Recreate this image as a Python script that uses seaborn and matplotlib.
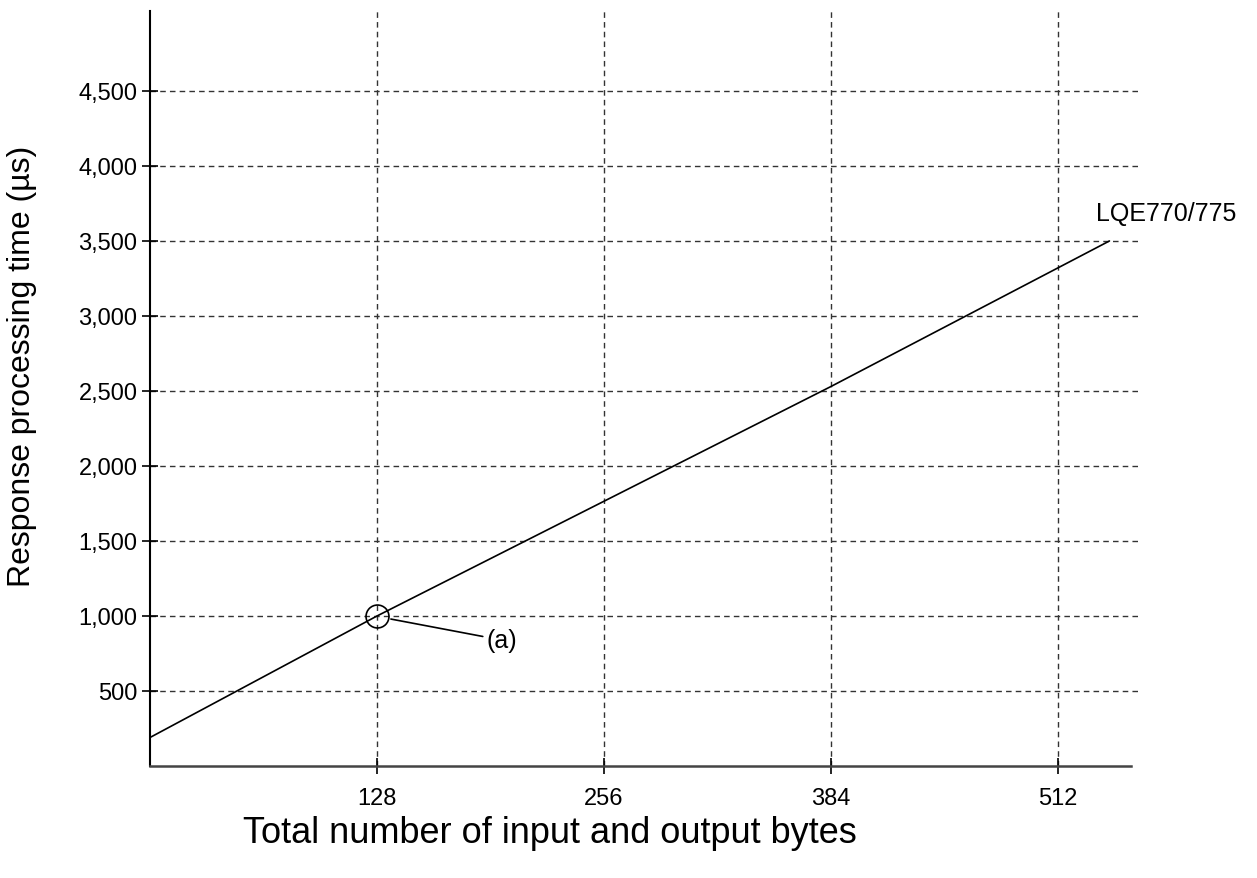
import numpy as np
import pandas as pd
import matplotlib
matplotlib.use('Agg')
import matplotlib.pyplot as plt
import seaborn as sns

# data
bytes_total = [0, 128, 384, 541]
resp_time_us = [190, 1000, 2530, 3500]
x_ticks = [128, 256, 384, 512]
y_ticks = [500, 1000, 1500, 2000, 2500, 3000, 3500, 4000, 4500]
point_a = (128, 1000)
series_name = 'LQE770/775'

sns.set_style('white')
plt.rcParams['font.family'] = ['Liberation Sans', 'DejaVu Sans']
plt.rcParams['text.color'] = 'black'
plt.rcParams['axes.labelcolor'] = 'black'

df = pd.DataFrame({'bytes': bytes_total, 'time': resp_time_us})

fig = plt.figure(figsize=(12.57, 8.79), dpi=100)
ax = fig.add_axes([150/1257, (879-767)/879, (1141-150)/1257, (767-12)/879])

sns.lineplot(data=df, x='bytes', y='time', color='black', lw=1.2, ax=ax)

ax.set_xlim(0, 558.8)
ax.set_ylim(0, 5033)
ax.set_xticks(x_ticks)
ax.set_yticks(y_ticks)
ax.set_yticklabels([f'{v:,}' for v in y_ticks])
ax.grid(True, ls=(0, (4, 3)), color='#333333', lw=1)
ax.tick_params(axis='both', bottom=True, left=True, direction='inout', length=12,
               width=1.2, labelsize=17, colors='black')
ax.tick_params(axis='x', pad=9)
ax.tick_params(axis='y', pad=3)

for s in ['top', 'right']:
    ax.spines[s].set_visible(False)
ax.spines['left'].set_color('black')
ax.spines['left'].set_linewidth(1.5)
ax.spines['bottom'].set_color('#444444')
ax.spines['bottom'].set_linewidth(1.8)
ax.spines['bottom'].set_bounds(0, 553)

ax.set_xlabel('Total number of input and output bytes', fontsize=26, va='center')
ax.set_ylabel('Response processing time (µs)', fontsize=23, va='center')
ax.xaxis.set_label_coords((550 - 150) / 991, (767 - 834) / 755)
ax.yaxis.set_label_coords((22 - 150) / 991, (767 - 366) / 755)

# circled point (a)
ax.plot(*point_a, marker='o', ms=16.5, mfc='none', mec='black', mew=1.2)
ax.annotate('(a)', xy=(134.3, 983), xytext=(189.5, 840),
            fontsize=18, va='center', ha='left',
            arrowprops=dict(arrowstyle='-', color='black', lw=1.2, shrinkA=0, shrinkB=2))

ax.text(533.4, 3686, series_name, fontsize=18, ha='left', va='center')

fig.savefig('out.png', dpi=100)
